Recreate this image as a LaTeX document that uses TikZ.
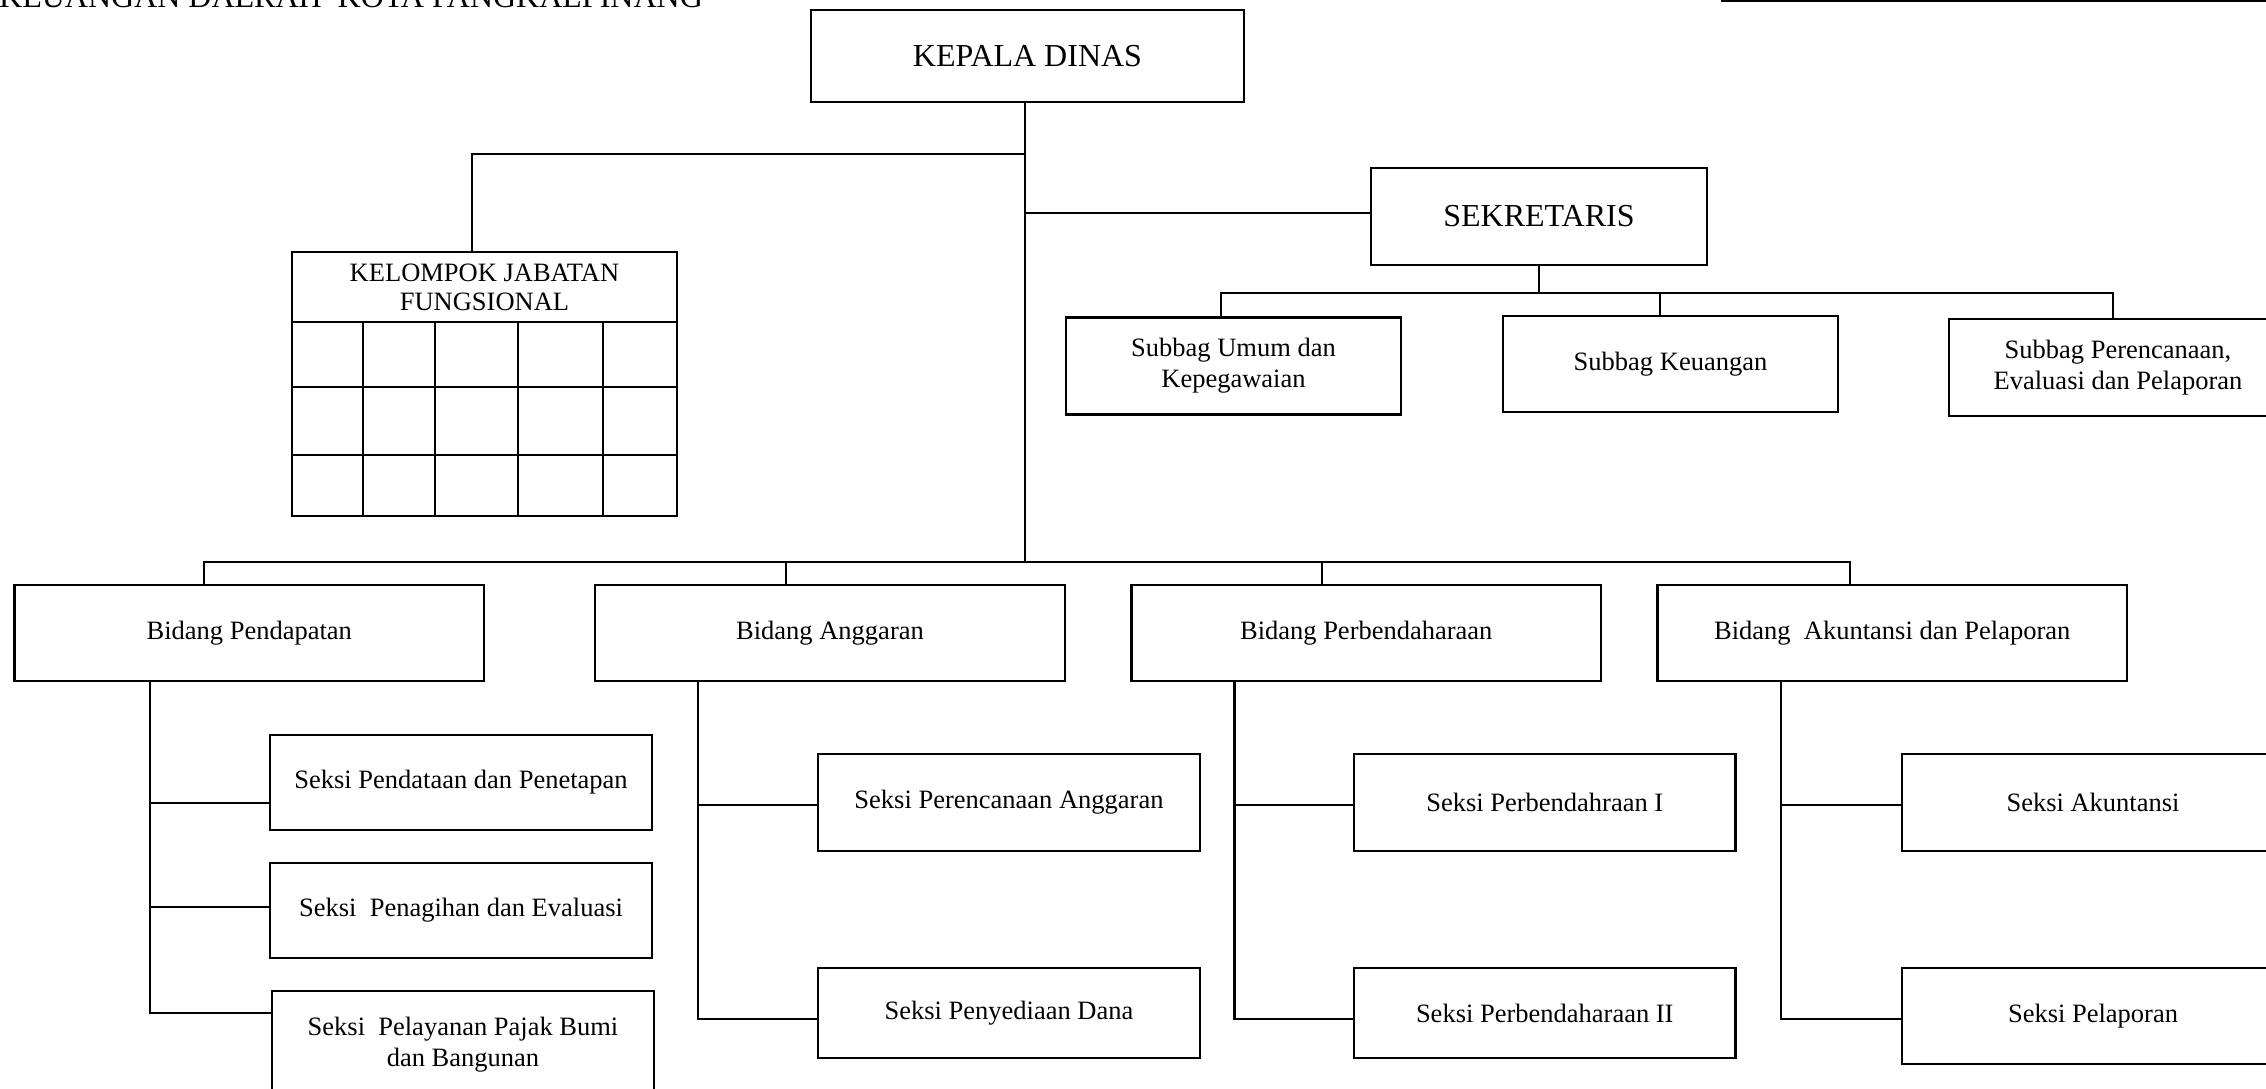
\documentclass[tikz,border=0pt]{standalone}
\usepackage{fontspec}
\setmainfont{Liberation Serif}
\usetikzlibrary{calc}
\begin{document}
\begin{tikzpicture}[x=1pt,y=-1pt,line width=2.3pt,
  box/.style={draw, rectangle, inner sep=0pt, align=center, font=\fontsize{26.5}{31}\selectfont},
  bigbox/.style={box, font=\fontsize{32}{36}\selectfont},
  conn/.style={draw, line width=2.2pt}]
\useasboundingbox (0,0) rectangle (2266,1088);
\fill[white] (0,0) rectangle (2266,1088);

% cut-off title and box at the top
\node[anchor=base west, inner sep=0pt, font=\fontsize{32}{36}\selectfont] (title) at (-2,7) {KEUANGAN DAERAH~ KOTA PANGKALPINANG};
\node[draw, rectangle, inner sep=0pt, minimum width=700pt, minimum height=120pt, anchor=south west] (topbox) at (1721,1.5) {};

% top level
\node[bigbox, minimum width=433pt, minimum height=92pt] (kd) at (1027.5,56) {KEPALA DINAS};
\node[bigbox, minimum width=336pt, minimum height=97pt] (sek) at (1539,216.5) {SEKRETARIS};

% kelompok jabatan fungsional
\node[box, font=\fontsize{26.5}{29}\selectfont, minimum width=385pt, minimum height=70pt] (kjf) at (484.5,287) {KELOMPOK JABATAN\\FUNGSIONAL};
\draw (292,322) rectangle (677,516);
\foreach \yy in {387,455} \draw (292,\yy) -- (677,\yy);
\foreach \xx in {363,435,518,603} \draw (\xx,322) -- (\xx,516);

% subbag
\node[box, minimum width=335pt, minimum height=97pt] (sub1) at (1233.5,366) {Subbag Umum dan\\Kepegawaian};
\node[box, minimum width=335pt, minimum height=96pt] (sub2) at (1670.5,364) {Subbag Keuangan};
\node[box, minimum width=338pt, minimum height=97pt] (sub3) at (2118,367.5) {Subbag Perencanaan,\\Evaluasi dan Pelaporan};

% bidang
\node[box, minimum width=469.5pt, minimum height=96pt] (b1) at (249.25,633) {Bidang Pendapatan};
\node[box, minimum width=470pt, minimum height=96pt] (b2) at (830,633) {Bidang Anggaran};
\node[box, minimum width=469.5pt, minimum height=96pt] (b3) at (1366.25,633) {Bidang Perbendaharaan};
\node[box, minimum width=469.5pt, minimum height=96pt] (b4) at (1892.25,633) {Bidang~ Akuntansi dan Pelaporan};

% seksi
\node[box, minimum width=382pt, minimum height=95pt] (s11) at (461,782.5) {Seksi Pendataan dan Penetapan};
\node[box, minimum width=382pt, minimum height=95pt] (s12) at (461,910.5) {Seksi~ Penagihan dan Evaluasi};
\node[box, minimum width=382pt, minimum height=106pt, anchor=north] (s13) at (463,990) {Seksi~ Pelayanan Pajak Bumi\\dan Bangunan};
\node[box, minimum width=382pt, minimum height=97pt] (s21) at (1009,802.5) {Seksi Perencanaan Anggaran};
\node[box, minimum width=382pt, minimum height=90pt] (s22) at (1009,1013) {Seksi Penyediaan Dana};
\node[box, minimum width=381.5pt, minimum height=97pt] (s31) at (1544.75,802.5) {Seksi Perbendahraan I};
\node[box, minimum width=381.5pt, minimum height=90pt] (s32) at (1544.75,1013) {Seksi Perbendaharaan II};
\node[box, minimum width=382pt, minimum height=97pt] (s41) at (2093,802.5) {Seksi Akuntansi};
\node[box, minimum width=382pt, minimum height=96pt] (s42) at (2093,1016) {Seksi Pelaporan};

% coordinates for connector ends
\coordinate (tk) at (1025,102);
\coordinate (tb) at (1025,562);
\coordinate (kj) at (1025,154);
\coordinate (kjtop) at (472,252);
\coordinate (ks) at (1025,213);
\coordinate (sbus) at (1539,293);
\coordinate (d1) at (1221,319);
\coordinate (d2) at (1660,317);
\coordinate (d3) at (2113,319);
\coordinate (e1) at (204,586);
\coordinate (e2) at (786,586);
\coordinate (e3) at (1322,586);
\coordinate (e4) at (1850,586);
\coordinate (f1) at (150,682);
\coordinate (f2) at (698,682);
\coordinate (f3) at (1234.5,682);
\coordinate (f4) at (1781,682);
\coordinate (g11) at (270,803);
\coordinate (g12) at (270,907);
\coordinate (g13) at (272,1013);
\coordinate (g21) at (818,805);
\coordinate (g22) at (818,1019);
\coordinate (g31) at (1354,805);
\coordinate (g32) at (1354,1019);
\coordinate (g41) at (1902,805);
\coordinate (g42) at (1902,1019);

% connectors
\draw[conn] (tk) -- (tb);
\draw[conn] (kj) -| (kjtop);
\draw[conn] (ks) -- (ks -| sek.west);
\draw[conn] (sek.south) -- (sbus);
\draw[conn] (d1) |- (sbus) -| (d3);
\draw[conn] (d2) -- (d2 |- sbus);
\draw[conn] (e1) |- (tb) -| (e4);
\draw[conn] (e2) -- (e2 |- tb);
\draw[conn] (e3) -- (e3 |- tb);
\draw[conn] (g11) -| (f1);
\draw[conn] (g12) -- (g12 -| f1);
\draw[conn] (f1) |- (g13);
\draw[conn] (g21) -| (f2);
\draw[conn] (f2) |- (g22);
\draw[conn] (g31) -| (f3);
\draw[conn] (f3) |- (g32);
\draw[conn] (g41) -| (f4);
\draw[conn] (f4) |- (g42);
\end{tikzpicture}
\end{document}
